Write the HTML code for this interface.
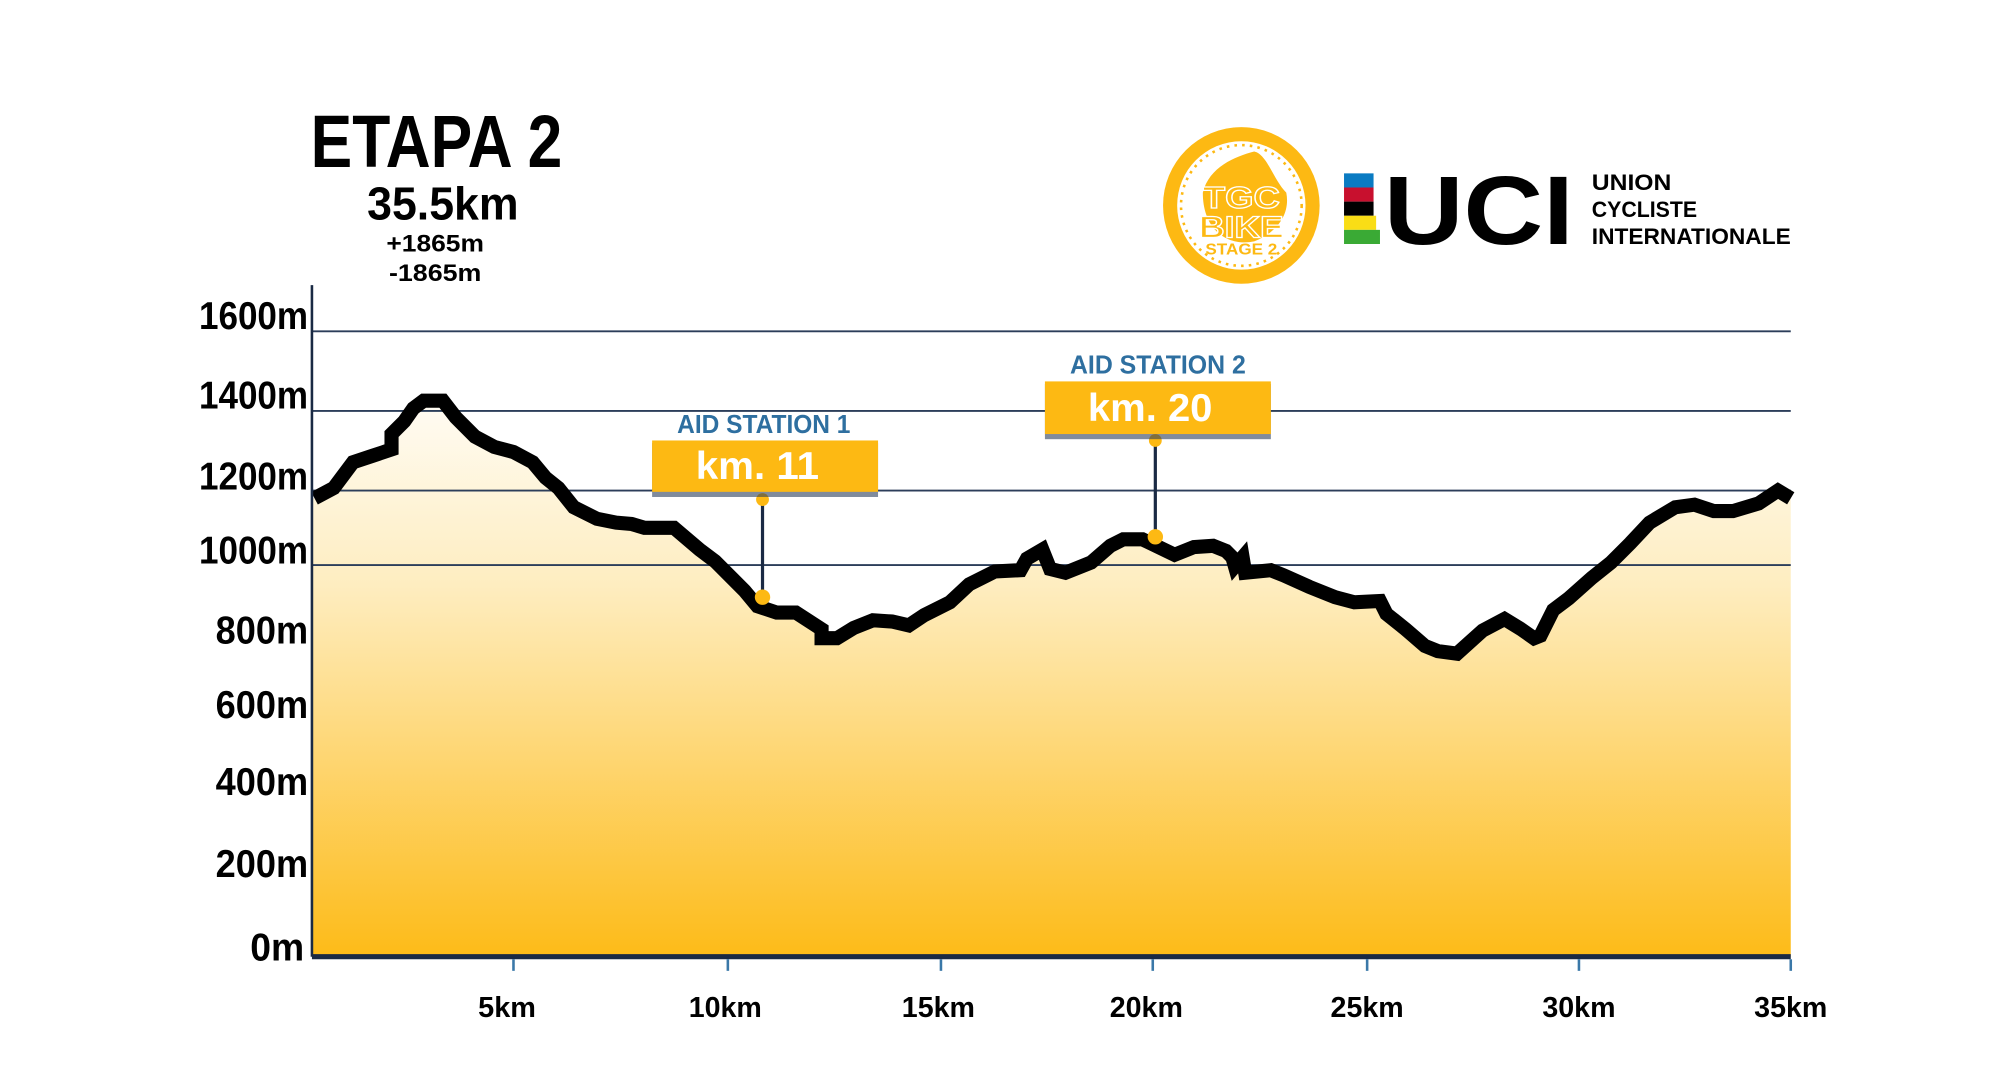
<!DOCTYPE html>
<html><head><meta charset="utf-8"><style>
html,body{margin:0;padding:0;background:#fff;}
svg{display:block;}
text{font-family:"Liberation Sans",sans-serif;font-weight:bold;}
</style></head><body>
<svg width="2000" height="1080" viewBox="0 0 1558 841" preserveAspectRatio="none" xmlns="http://www.w3.org/2000/svg">
<defs>
<linearGradient id="g" x1="0" y1="300" x2="0" y2="745" gradientUnits="userSpaceOnUse">
<stop offset="0" stop-color="#fffdf8"/>
<stop offset="0.35" stop-color="#feedc0"/>
<stop offset="1" stop-color="#fdbb18"/>
</linearGradient>
</defs>
<rect width="1558" height="841" fill="#fff"/>
<text x="242" y="130" font-size="58" textLength="196" lengthAdjust="spacingAndGlyphs">ETAPA 2</text>
<text x="286" y="171" font-size="36" textLength="118" lengthAdjust="spacingAndGlyphs">35.5km</text>
<text x="301" y="196" font-size="19" textLength="76" lengthAdjust="spacingAndGlyphs">+1865m</text>
<text x="303" y="219" font-size="19" textLength="72" lengthAdjust="spacingAndGlyphs">-1865m</text>

<g transform="translate(967,160)">
<circle r="61" fill="#fdb913"/>
<circle r="50" fill="#fff"/>
<circle r="47" fill="#fff" stroke="#fdb913" stroke-width="2" stroke-dasharray="2 4"/>
<path d="M-30,-10 C-25,-30 -5,-38 10,-42 C20,-40 25,-20 35,-10 C38,5 30,20 10,28 C-10,32 -30,20 -30,-10Z" fill="#fdb913"/>
<text x="0" y="2" font-size="24" text-anchor="middle" fill="#fdb913" stroke="#fff" stroke-width="1" textLength="60" lengthAdjust="spacingAndGlyphs">TGC</text>
<text x="0" y="25" font-size="24" text-anchor="middle" fill="#fdb913" stroke="#fff" stroke-width="1" textLength="66" lengthAdjust="spacingAndGlyphs">BIKE</text>
<text x="0" y="38" font-size="12" text-anchor="middle" fill="#fdb913" textLength="56" lengthAdjust="spacingAndGlyphs">STAGE 2</text>
</g>

<rect x="1047" y="135" width="23" height="11" fill="#0a7bc2"/>
<rect x="1047" y="146" width="23" height="11" fill="#c8102e"/>
<rect x="1047" y="157" width="23" height="11" fill="#000"/>
<rect x="1047" y="168" width="25" height="11" fill="#f9dd16"/>
<rect x="1047" y="179" width="28" height="11" fill="#3aaa35"/>
<text x="1078" y="190" font-size="76" textLength="148" lengthAdjust="spacingAndGlyphs">UCI</text>
<text x="1240" y="148" font-size="17" textLength="62" lengthAdjust="spacingAndGlyphs">UNION</text>
<text x="1240" y="169" font-size="17" textLength="82" lengthAdjust="spacingAndGlyphs">CYCLISTE</text>
<text x="1240" y="190" font-size="17" textLength="155" lengthAdjust="spacingAndGlyphs">INTERNATIONALE</text>

<polygon fill="url(#g)" points="243,745 243,388 245,388 260,380 275,360 290,355 305,350 305,338 315,328 322,318 330,312 345,312 355,325 370,340 385,348 400,352 415,360 425,372 435,380 447,395 465,404 480,407 492,408 502,411 525,411 545,428 557,437 570,450 580,460 590,472 605,477 620,477 640,490 640,497 652,497 665,489 680,483 695,484 708,487 720,479 740,469 755,455 775,445 795,444 800,435 812,428 818,443 830,446 850,438 865,425 875,420 890,420 915,432 930,426 945,425 955,429 960,434 962,441 968,434 970,446 990,444 1000,448 1020,457 1040,465 1055,469 1075,468 1080,478 1095,490 1110,503 1120,507 1135,509 1155,491 1172,482 1185,490 1195,497 1200,495 1210,475 1222,466 1240,450 1255,438 1270,423 1285,407 1305,395 1320,393 1335,398 1350,398 1370,392 1385,382 1395,388 1395,745"/>

<g stroke="#2c3e5a" stroke-width="1.5">
<line x1="243" y1="258" x2="1395" y2="258"/>
<line x1="243" y1="320" x2="1395" y2="320"/>
<line x1="243" y1="382" x2="1395" y2="382"/>
<line x1="243" y1="440" x2="1395" y2="440"/>
</g>

<polyline fill="none" stroke="#000" stroke-width="11" stroke-linejoin="miter" points="245,388 260,380 275,360 290,355 305,350 305,338 315,328 322,318 330,312 345,312 355,325 370,340 385,348 400,352 415,360 425,372 435,380 447,395 465,404 480,407 492,408 502,411 525,411 545,428 557,437 570,450 580,460 590,472 605,477 620,477 640,490 640,497 652,497 665,489 680,483 695,484 708,487 720,479 740,469 755,455 775,445 795,444 800,435 812,428 818,443 830,446 850,438 865,425 875,420 890,420 915,432 930,426 945,425 955,429 960,434 962,441 968,434 970,446 990,444 1000,448 1020,457 1040,465 1055,469 1075,468 1080,478 1095,490 1110,503 1120,507 1135,509 1155,491 1172,482 1185,490 1195,497 1200,495 1210,475 1222,466 1240,450 1255,438 1270,423 1285,407 1305,395 1320,393 1335,398 1350,398 1370,392 1385,382 1395,388"/>

<line x1="243" y1="222" x2="243" y2="745" stroke="#1a2a44" stroke-width="2"/>
<line x1="243" y1="745" x2="1395" y2="745" stroke="#1a2a44" stroke-width="4"/>
<g stroke="#3a78a8" stroke-width="2">
<line x1="400" y1="747" x2="400" y2="756"/>
<line x1="567" y1="747" x2="567" y2="756"/>
<line x1="733" y1="747" x2="733" y2="756"/>
<line x1="898" y1="747" x2="898" y2="756"/>
<line x1="1065" y1="747" x2="1065" y2="756"/>
<line x1="1230" y1="747" x2="1230" y2="756"/>
<line x1="1395" y1="747" x2="1395" y2="756"/>
</g>

<g font-size="30" text-anchor="end">
<text x="240" y="256" textLength="85" lengthAdjust="spacingAndGlyphs">1600m</text>
<text x="240" y="318" textLength="85" lengthAdjust="spacingAndGlyphs">1400m</text>
<text x="240" y="381" textLength="85" lengthAdjust="spacingAndGlyphs">1200m</text>
<text x="240" y="439" textLength="85" lengthAdjust="spacingAndGlyphs">1000m</text>
<text x="240" y="501" textLength="72" lengthAdjust="spacingAndGlyphs">800m</text>
<text x="240" y="559" textLength="72" lengthAdjust="spacingAndGlyphs">600m</text>
<text x="240" y="619" textLength="72" lengthAdjust="spacingAndGlyphs">400m</text>
<text x="240" y="683" textLength="72" lengthAdjust="spacingAndGlyphs">200m</text>
<text x="237" y="748" textLength="42" lengthAdjust="spacingAndGlyphs">0m</text>
</g>

<g font-size="22" text-anchor="middle">
<text x="395" y="792" textLength="45" lengthAdjust="spacingAndGlyphs">5km</text>
<text x="565" y="792" textLength="57" lengthAdjust="spacingAndGlyphs">10km</text>
<text x="731" y="792" textLength="57" lengthAdjust="spacingAndGlyphs">15km</text>
<text x="893" y="792" textLength="57" lengthAdjust="spacingAndGlyphs">20km</text>
<text x="1065" y="792" textLength="57" lengthAdjust="spacingAndGlyphs">25km</text>
<text x="1230" y="792" textLength="57" lengthAdjust="spacingAndGlyphs">30km</text>
<text x="1395" y="792" textLength="57" lengthAdjust="spacingAndGlyphs">35km</text>
</g>

<line x1="594" y1="386" x2="594" y2="465" stroke="#1a2a44" stroke-width="2.5"/>
<circle cx="594" cy="389" r="5" fill="#fdb913"/>
<circle cx="594" cy="465" r="6" fill="#fdb913"/>
<rect x="508" y="345" width="176" height="42" fill="#2c3e5a" opacity="0.6"/>
<rect x="508" y="343" width="176" height="40" fill="#fdb913"/>
<text x="595" y="337" font-size="20" fill="#2e6fa0" text-anchor="middle" textLength="135" lengthAdjust="spacingAndGlyphs">AID STATION 1</text>
<text x="590" y="373" font-size="30" fill="#fff" text-anchor="middle" textLength="96" lengthAdjust="spacingAndGlyphs">km. 11</text>

<line x1="900" y1="340" x2="900" y2="418" stroke="#1a2a44" stroke-width="2.5"/>
<circle cx="900" cy="343" r="5" fill="#fdb913"/>
<circle cx="900" cy="418" r="6" fill="#fdb913"/>
<rect x="814" y="299" width="176" height="43" fill="#2c3e5a" opacity="0.6"/>
<rect x="814" y="297" width="176" height="41" fill="#fdb913"/>
<text x="902" y="291" font-size="20" fill="#2e6fa0" text-anchor="middle" textLength="137" lengthAdjust="spacingAndGlyphs">AID STATION 2</text>
<text x="896" y="328" font-size="30" fill="#fff" text-anchor="middle" textLength="97" lengthAdjust="spacingAndGlyphs">km. 20</text>
</svg>
</body></html>
